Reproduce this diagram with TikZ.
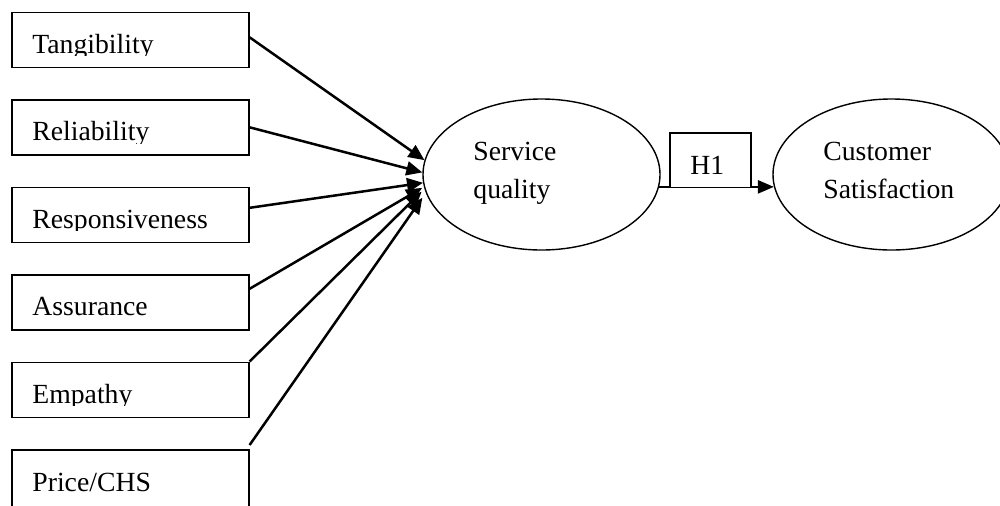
\documentclass[tikz,border=0pt]{standalone}
\usepackage{fontspec}
\setmainfont{Liberation Serif}
\usetikzlibrary{shapes.geometric,arrows.meta,backgrounds}
\begin{document}
\begin{tikzpicture}[x=0.5pt,y=-0.5pt,
  factor/.style={draw, line width=0.8pt, minimum width=118.5pt, minimum height=27.5pt, anchor=north west, inner sep=0pt},
  lbl/.style={font=\fontsize{13.85}{16}\selectfont, anchor=base west, inner sep=0pt},
  construct/.style={draw, ellipse, line width=0.7pt, minimum width=118.5pt, minimum height=75.5pt, inner sep=0pt},
  link/.style={line width=1.25pt, -{Triangle[length=8pt,width=7pt]}},
  hyp/.style={draw, line width=0.8pt, fill=white, minimum width=40.5pt, minimum height=27.2pt, inner sep=0pt, anchor=north west}]
\clip (0,0) rectangle (1000,505);
% factor boxes
\node[factor] (tang) at (11,11.5) {};
\node[factor] (rel)  at (11,99) {};
\node[factor] (resp) at (11,186.5) {};
\node[factor] (ass)  at (11,274) {};
\node[factor] (emp)  at (11,361.5) {};
\node[factor, minimum height=32pt] (price) at (11,449) {};
% labels (clipped like the original text boxes)
\begin{scope}\clip (11,11.5) rectangle (248,55.5); \node[lbl] (tangt) at (32,53) {Tangibility};\end{scope}
\begin{scope}\clip (11,99) rectangle (248,143); \node[lbl] (relt) at (32,140.5) {Reliability};\end{scope}
\begin{scope}\clip (11,186.5) rectangle (248,230.5); \node[lbl] (respt) at (32,228) {Responsiveness};\end{scope}
\begin{scope}\clip (11,274) rectangle (248,318); \node[lbl] (asst) at (32,315.5) {Assurance};\end{scope}
\begin{scope}\clip (11,361.5) rectangle (248,405.5); \node[lbl] (empt) at (32,403) {Empathy};\end{scope}
\begin{scope}\clip (11,449) rectangle (248,496); \node[lbl] (pricet) at (32,491.5) {Price/CHS};\end{scope}
% constructs
\node[construct] (sq) at (541.5,174.5) {};
\node[construct] (cs) at (891.5,174.5) {};
\node[lbl] (sq1) at (473,160) {Service};
\node[lbl] (sq2) at (473,198) {quality};
\node[lbl] (cs1) at (823,160) {Customer};
\node[lbl] (cs2) at (823,198) {Satisfaction};
% hypothesis box
\node[hyp] (h1) at (669.3,132.3) {};
\node[lbl] (h1t) at (690,174.3) {H1};
% connectors
\draw[link] ([yshift=1.25pt]tang.east) -- (sq.173);
\draw[link] (rel.east) -- (sq.179);
\draw[link] ([yshift=3.5pt]resp.east) -- (sq.184);
\draw[link, shorten >=1pt] ([yshift=6.75pt]ass.east) -- (sq.186);
\draw[link, shorten >=2pt] (emp.north east) -- (sq.187.5);
\draw[link, shorten >=3pt] ([yshift=2pt]price.north east) -- (sq.189);
\begin{scope}[on background layer]
\draw[line width=1.25pt, -{Triangle[length=8pt,width=6.5pt]}] (sq.-6.5) -- (cs.186.5);
\end{scope}
\end{tikzpicture}
\end{document}
